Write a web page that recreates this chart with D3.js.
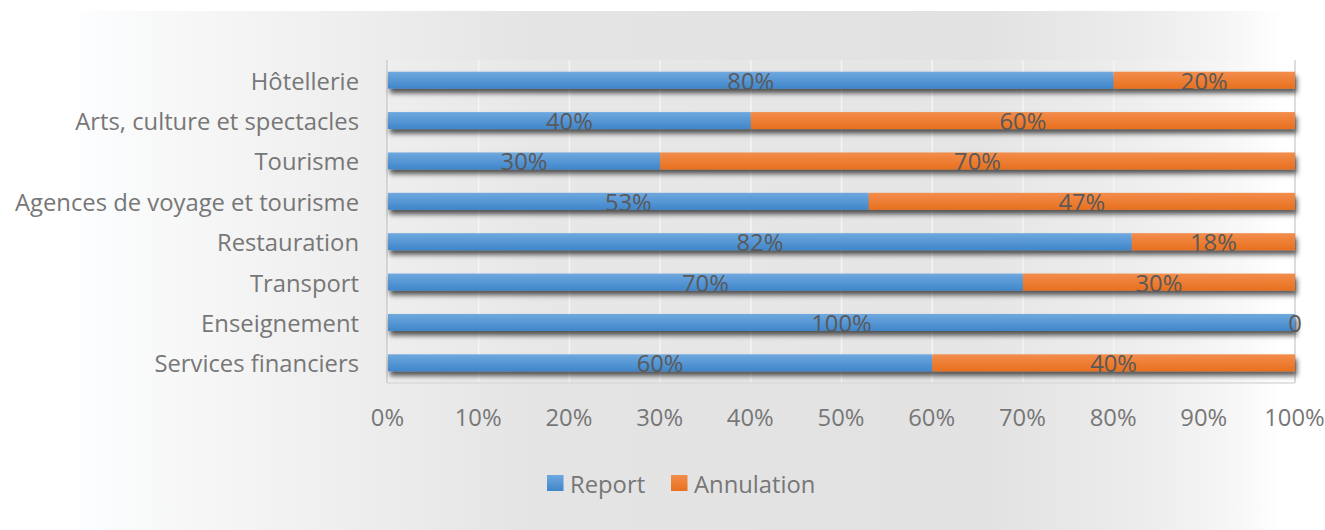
<!DOCTYPE html>
<html>
<head>
<meta charset="utf-8">
<script src="https://cdnjs.cloudflare.com/ajax/libs/d3/7.8.5/d3.min.js"></script>
<style>
  html, body { margin: 0; padding: 0; background: #ffffff; }
  svg { display: block; }
  text { font-family: "Open Sans", "Noto Sans", sans-serif; }
</style>
</head>
<body>
<svg id="chart" width="1325" height="530"></svg>
<script>
const categories = ["Hôtellerie", "Arts, culture et spectacles", "Tourisme", "Agences de voyage et tourisme", "Restauration", "Transport", "Enseignement", "Services financiers"];
const reportValues = [0.80, 0.40, 0.30, 0.53, 0.82, 0.70, 1.00, 0.60];
const annulationValues = [0.20, 0.60, 0.70, 0.47, 0.18, 0.30, 0.00, 0.40];
const reportLabels = ["80%", "40%", "30%", "53%", "82%", "70%", "100%", "60%"];
const annulationLabels = ["20%", "60%", "70%", "47%", "18%", "30%", "0", "40%"];
const seriesNames = ["Report", "Annulation"];
const tickValues = [0, 0.1, 0.2, 0.3, 0.4, 0.5, 0.6, 0.7, 0.8, 0.9, 1.0];

const svg = d3.select("#chart");
const W = 1325, H = 530;
const plot = { left: 388, right: 1295, top: 60, bottom: 383 };
const FS = 23.8;

const defs = svg.append("defs");
const bg = defs.append("linearGradient").attr("id", "bgGrad").attr("x1", "0").attr("x2", "1").attr("y1", "0").attr("y2", "0");
[[0, "#fcfdfe"], [0.18, "#f1f1f1"], [0.38, "#e4e4e4"], [0.75, "#e2e2e2"], [0.88, "#ececec"], [0.95, "#f5f5f5"], [1, "#ffffff"]]
  .forEach(([o, c]) => bg.append("stop").attr("offset", o).attr("stop-color", c));

const gBlue = defs.append("linearGradient").attr("id", "gBlue").attr("x1", 0).attr("x2", 0).attr("y1", 0).attr("y2", 1);
gBlue.append("stop").attr("offset", 0).attr("stop-color", "#6fa8de");
gBlue.append("stop").attr("offset", 1).attr("stop-color", "#3f86cb");
const gOrange = defs.append("linearGradient").attr("id", "gOrange").attr("x1", 0).attr("x2", 0).attr("y1", 0).attr("y2", 1);
gOrange.append("stop").attr("offset", 0).attr("stop-color", "#f38d4c");
gOrange.append("stop").attr("offset", 1).attr("stop-color", "#e8701e");

const shadow = defs.append("filter").attr("id", "shadow").attr("x", "-5%").attr("y", "-50%").attr("width", "110%").attr("height", "250%");
shadow.append("feDropShadow").attr("dx", 2).attr("dy", 4.5).attr("stdDeviation", 2.8)
  .attr("flood-color", "#000").attr("flood-opacity", 0.65);

svg.append("rect").attr("x", 80).attr("y", 11).attr("width", 1203).attr("height", H - 11).attr("fill", "url(#bgGrad)");

const x = d3.scaleLinear().domain([0, 1]).range([plot.left, plot.right]);
const y = d3.scaleBand().domain(categories).range([plot.top, plot.bottom]).paddingInner(0.58).paddingOuter(0.29);

svg.append("rect").attr("x", plot.left).attr("y", plot.top).attr("width", plot.right - plot.left).attr("height", plot.bottom - plot.top)
  .attr("fill", "#ffffff").attr("fill-opacity", 0.12);

svg.append("g").selectAll("line").data(tickValues).join("line")
  .attr("x1", d => x(d)).attr("x2", d => x(d)).attr("y1", plot.top).attr("y2", plot.bottom)
  .attr("stroke", "#f5f5f5").attr("stroke-width", 1.5);

svg.append("line").attr("x1", plot.left - 1).attr("x2", plot.left - 1).attr("y1", plot.top).attr("y2", plot.bottom)
  .attr("stroke", "#d4d4d4").attr("stroke-width", 2);
svg.append("line").attr("x1", plot.right).attr("x2", plot.right).attr("y1", plot.top).attr("y2", plot.bottom)
  .attr("stroke", "#d4d4d4").attr("stroke-width", 1.5);
svg.append("line").attr("x1", plot.left - 1).attr("x2", plot.right).attr("y1", plot.bottom).attr("y2", plot.bottom)
  .attr("stroke", "#dadada").attr("stroke-width", 1.5);

const stackData = categories.map((c, i) => ({ cat: c, Report: reportValues[i], Annulation: annulationValues[i], i }));
const stack = d3.stack().keys(seriesNames)(stackData);
const fills = { Report: "url(#gBlue)", Annulation: "url(#gOrange)" };

const bars = svg.append("g").attr("filter", "url(#shadow)");
stack.forEach(layer => {
  bars.selectAll(null).data(layer).join("rect")
    .attr("x", d => x(d[0]))
    .attr("y", d => y(d.data.cat))
    .attr("width", d => x(d[1]) - x(d[0]))
    .attr("height", y.bandwidth())
    .attr("fill", fills[layer.key]);
});

const labelsByKey = { Report: reportLabels, Annulation: annulationLabels };
stack.forEach(layer => {
  svg.append("g").selectAll("text").data(layer).join("text")
    .attr("x", d => x((d[0] + d[1]) / 2))
    .attr("y", d => y(d.data.cat) + y.bandwidth() / 2 + 9.5)
    .attr("text-anchor", "middle")
    .attr("font-size", FS)
    .attr("fill", "#595959")
    .text(d => labelsByKey[layer.key][d.data.i]);
});

const yAxis = d3.axisLeft(y).tickSize(0).tickPadding(29);
const ya = svg.append("g").attr("transform", `translate(${plot.left},0)`).call(yAxis);
ya.select(".domain").remove();
ya.selectAll("text").attr("font-size", FS).attr("fill", "#777777")
  .attr("font-family", "'Open Sans', 'Noto Sans', sans-serif").attr("dy", 9.5).attr("y", 0);

const xAxis = d3.axisBottom(x).tickValues(tickValues).tickFormat(d3.format(".0%")).tickSize(0).tickPadding(0);
const xa = svg.append("g").attr("transform", `translate(0,${plot.bottom})`).call(xAxis);
xa.select(".domain").remove();
xa.selectAll("text").attr("font-size", FS).attr("fill", "#777777")
  .attr("font-family", "'Open Sans', 'Noto Sans', sans-serif").attr("dy", 0).attr("y", 43).attr("dx", -1);

const legend = svg.append("g");
const legendItems = [
  { name: seriesNames[0], color: "url(#gBlue)", sx: 547, tx: 570 },
  { name: seriesNames[1], color: "url(#gOrange)", sx: 671, tx: 694 }
];
legendItems.forEach(it => {
  legend.append("rect").attr("x", it.sx).attr("y", 475).attr("width", 16.5).attr("height", 16).attr("fill", it.color);
  legend.append("text").attr("x", it.tx).attr("y", 493).attr("font-size", FS).attr("fill", "#777777").text(it.name);
});
</script>
</body>
</html>
